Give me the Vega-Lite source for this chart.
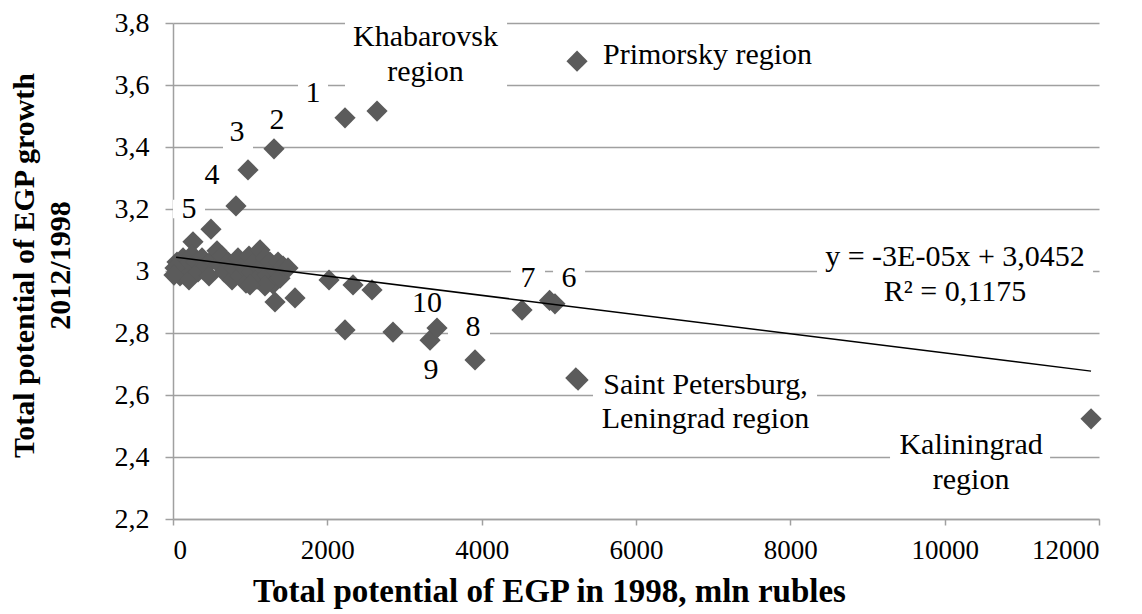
{
  "$schema": "https://vega.github.io/schema/vega-lite/v6.json",
  "width": 926,
  "height": 496,
  "autosize": {"type": "none"},
  "padding": {"left": 173, "top": 23, "right": 43, "bottom": 95},
  "background": "white",
  "config": {"view": {"stroke": null}, "font": "Liberation Serif, DejaVu Serif, serif"},
  "datasets": {
    "points": [
      {"x": 5236, "y": 3.677}, {"x": 2644, "y": 3.516}, {"x": 2229, "y": 3.494}, {"x": 1309, "y": 3.394},
      {"x": 972, "y": 3.326}, {"x": 816, "y": 3.21}, {"x": 492, "y": 3.135}, {"x": 259, "y": 3.094},
      {"x": 2022, "y": 2.971}, {"x": 2333, "y": 2.955}, {"x": 2579, "y": 2.939}, {"x": 1581, "y": 2.913},
      {"x": 1322, "y": 2.9}, {"x": 2229, "y": 2.81}, {"x": 2851, "y": 2.803}, {"x": 3331, "y": 2.777},
      {"x": 3421, "y": 2.816}, {"x": 3914, "y": 2.713}, {"x": 4523, "y": 2.874}, {"x": 4950, "y": 2.894},
      {"x": 4880, "y": 2.905}, {"x": 5249, "y": 2.648}, {"x": 5220, "y": 2.655}, {"x": 11897, "y": 2.523},
      {"x": 52, "y": 3.029}, {"x": 65, "y": 3.003}, {"x": 91, "y": 2.984}, {"x": 130, "y": 3.042},
      {"x": 168, "y": 3.016}, {"x": 207, "y": 2.971}, {"x": 246, "y": 3.052}, {"x": 298, "y": 3.029},
      {"x": 324, "y": 2.997}, {"x": 376, "y": 3.042}, {"x": 428, "y": 3.016}, {"x": 467, "y": 2.984},
      {"x": 505, "y": 3.035}, {"x": 570, "y": 3.065}, {"x": 596, "y": 3.023}, {"x": 635, "y": 3.048},
      {"x": 661, "y": 2.997}, {"x": 713, "y": 3.029}, {"x": 765, "y": 2.971}, {"x": 790, "y": 3.01},
      {"x": 842, "y": 3.042}, {"x": 868, "y": 2.984}, {"x": 907, "y": 3.016}, {"x": 946, "y": 2.961},
      {"x": 985, "y": 3.048}, {"x": 1011, "y": 2.997}, {"x": 1050, "y": 3.029}, {"x": 1089, "y": 2.974},
      {"x": 1128, "y": 3.068}, {"x": 1153, "y": 3.016}, {"x": 1192, "y": 3.042}, {"x": 1218, "y": 2.987},
      {"x": 1257, "y": 3.029}, {"x": 1296, "y": 2.958}, {"x": 1322, "y": 3.003}, {"x": 1361, "y": 3.029},
      {"x": 1387, "y": 2.977}, {"x": 1426, "y": 3.016}, {"x": 1490, "y": 3.01}, {"x": 1192, "y": 2.952},
      {"x": 998, "y": 2.955}, {"x": 26, "y": 3.01}, {"x": 13, "y": 2.987}
    ],
    "trend": [{"x": 40, "y": 3.044}, {"x": 11897, "y": 2.677}],
    "boxes": [
      {"x": 2229, "x2": 4329, "y": 3.56, "y2": 3.81},
      {"x": 1620, "x2": 2009, "y": 3.56, "y2": 3.64},
      {"x": 648, "x2": 1037, "y": 3.37, "y2": 3.43},
      {"x": 0, "x2": 415, "y": 3.17, "y2": 3.23},
      {"x": 4380, "x2": 4821, "y": 2.97, "y2": 3.03},
      {"x": 4925, "x2": 5340, "y": 2.97, "y2": 3.03},
      {"x": 8346, "x2": 11923, "y": 2.97, "y2": 3.03},
      {"x": 3564, "x2": 4108, "y": 2.77, "y2": 2.83},
      {"x": 5443, "x2": 8346, "y": 2.57, "y2": 2.63},
      {"x": 9292, "x2": 11366, "y": 2.37, "y2": 2.43}
    ],
    "labels": [
      {"x": 6927, "y": 3.697, "label": "Primorsky region"},
      {"x": 3272, "y": 3.755, "label": "Khabarovsk"},
      {"x": 3272, "y": 3.642, "label": "region"},
      {"x": 1815, "y": 3.574, "label": "1"},
      {"x": 1348, "y": 3.487, "label": "2"},
      {"x": 829, "y": 3.448, "label": "3"},
      {"x": 505, "y": 3.31, "label": "4"},
      {"x": 207, "y": 3.2, "label": "5"},
      {"x": 5133, "y": 2.977, "label": "6"},
      {"x": 4601, "y": 2.977, "label": "7"},
      {"x": 3888, "y": 2.819, "label": "8"},
      {"x": 3344, "y": 2.681, "label": "9"},
      {"x": 3292, "y": 2.897, "label": "10"},
      {"x": 6900, "y": 2.632, "label": "Saint Petersburg,"},
      {"x": 6900, "y": 2.523, "label": "Leningrad region"},
      {"x": 10342, "y": 2.439, "label": "Kaliningrad"},
      {"x": 10342, "y": 2.326, "label": "region"},
      {"x": 10134, "y": 3.045, "label": "y = -3E-05x + 3,0452"},
      {"x": 10134, "y": 2.932, "label": "R² = 0,1175"}
    ]
  },
  "encoding": {
    "x": {
      "field": "x", "type": "quantitative",
      "scale": {"domain": [0, 12000], "nice": false, "zero": false},
      "axis": {
        "values": [0, 2000, 4000, 6000, 8000, 10000, 12000], "format": "d", "grid": false,
        "domainColor": "#a0a0a0", "domainWidth": 1.5, "tickColor": "#a0a0a0", "tickWidth": 1.5, "tickSize": 6,
        "labelFont": "Liberation Serif, DejaVu Serif, serif", "labelFontSize": 27, "labelColor": "#000000", "labelPadding": 12,
        "title": "Total potential of EGP in 1998, mln rubles",
        "titleFont": "Liberation Serif, DejaVu Serif, serif", "titleFontSize": 33, "titleFontWeight": "bold", "titleColor": "#000000",
        "titleX": 376, "titleY": 72, "titleBaseline": "middle", "titleAlign": "center"
      }
    },
    "y": {
      "field": "y", "type": "quantitative",
      "scale": {"domain": [2.2, 3.8], "nice": false, "zero": false},
      "axis": {
        "values": [2.2, 2.4, 2.6, 2.8, 3.0, 3.2, 3.4, 3.6, 3.8],
        "labelExpr": "replace(toString(round(datum.value*10)/10), '.', ',')",
        "grid": true, "gridColor": "#a0a0a0", "gridWidth": 1.5,
        "domainColor": "#a0a0a0", "domainWidth": 1.5, "tickColor": "#a0a0a0", "tickWidth": 1.5, "tickSize": 8,
        "labelFont": "Liberation Serif, DejaVu Serif, serif", "labelFontSize": 28, "labelColor": "#000000", "labelPadding": 16,
        "title": ["Total potential of EGP growth", "2012/1998"],
        "titleFont": "Liberation Serif, DejaVu Serif, serif", "titleFontSize": 30, "titleFontWeight": "bold", "titleColor": "#000000",
        "titleLineHeight": 36, "titleX": -149, "titleY": 242, "titleBaseline": "middle", "titleAlign": "center", "titleAngle": -90
      }
    }
  },
  "layer": [
    {
      "data": {"name": "boxes"},
      "mark": {"type": "rect", "color": "white", "clip": false},
      "encoding": {
        "x2": {"field": "x2"},
        "y2": {"field": "y2"}
      }
    },
    {
      "data": {"name": "points"},
      "mark": {"type": "point", "shape": "diamond", "filled": true, "size": 450, "color": "#5b5b5b", "opacity": 1}
    },
    {
      "data": {"name": "trend"},
      "mark": {"type": "line", "color": "#000000", "strokeWidth": 1.5}
    },
    {
      "data": {"name": "labels"},
      "mark": {"type": "text", "font": "Liberation Serif, DejaVu Serif, serif", "fontSize": 30, "color": "#000000", "align": "center", "baseline": "middle"},
      "encoding": {
        "text": {"field": "label"}
      }
    }
  ]
}
